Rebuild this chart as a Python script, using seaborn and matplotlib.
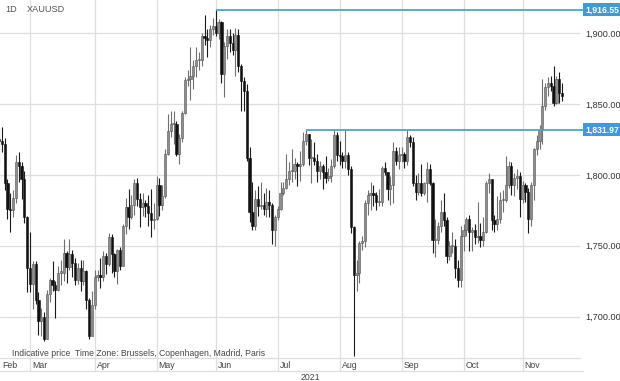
import matplotlib

matplotlib.use("Agg")

import matplotlib.pyplot as plt
import matplotlib.transforms as mtransforms
import numpy as np
import pandas as pd
import seaborn as sns


# daily XAUUSD candles (open, high, low, close)
FEB = [
    (1842, 1849, 1822, 1825), (1825, 1833, 1808, 1824), (1824, 1834, 1816, 1822),
    (1822, 1826, 1789, 1794), (1794, 1797, 1769, 1776), (1776, 1787, 1760, 1775),
    (1775, 1789, 1770, 1784), (1784, 1814, 1780, 1809), (1809, 1816, 1795, 1806),
    (1806, 1809, 1783, 1797), (1797, 1803, 1766, 1770), (1770, 1771, 1717, 1734),
]
MAR = [
    (1734, 1760, 1717, 1723), (1723, 1739, 1705, 1737), (1737, 1739, 1709, 1712),
    (1712, 1717, 1687, 1697), (1697, 1706, 1686, 1700), (1700, 1703, 1683, 1684),
    (1684, 1719, 1684, 1716), (1716, 1727, 1710, 1726), (1726, 1739, 1718, 1722),
    (1722, 1725, 1699, 1719), (1719, 1736, 1718, 1731), (1731, 1740, 1722, 1731),
    (1731, 1755, 1725, 1745), (1745, 1746, 1724, 1735), (1735, 1755, 1733, 1744),
    (1744, 1747, 1728, 1738), (1738, 1741, 1722, 1726), (1726, 1738, 1723, 1734),
    (1734, 1740, 1718, 1725), (1725, 1740, 1722, 1732), (1732, 1733, 1705, 1712),
    (1712, 1713, 1684, 1686), (1686, 1718, 1686, 1708),
]
APR = [
    (1708, 1733, 1705, 1728), (1728, 1733, 1725, 1729), (1729, 1741, 1720, 1728),
    (1728, 1746, 1725, 1743), (1743, 1745, 1730, 1737), (1737, 1759, 1736, 1756),
    (1756, 1758, 1731, 1744), (1744, 1745, 1728, 1732), (1732, 1748, 1723, 1747),
    (1747, 1749, 1733, 1736), (1736, 1765, 1736, 1764), (1764, 1784, 1758, 1777),
    (1777, 1790, 1762, 1770), (1770, 1786, 1769, 1779), (1779, 1797, 1772, 1794),
    (1794, 1798, 1778, 1783), (1783, 1787, 1763, 1777), (1777, 1787, 1771, 1780),
    (1780, 1782, 1770, 1778), (1778, 1786, 1764, 1773), (1773, 1790, 1756, 1768),
    (1768, 1780, 1762, 1769),
]
MAY = [
    (1769, 1799, 1768, 1793), (1793, 1798, 1771, 1779), (1779, 1793, 1775, 1785),
    (1785, 1818, 1784, 1815), (1815, 1843, 1814, 1831), (1831, 1845, 1827, 1836),
    (1836, 1845, 1822, 1836), (1836, 1838, 1813, 1815), (1815, 1829, 1808, 1826),
    (1826, 1845, 1823, 1844), (1844, 1869, 1843, 1867), (1867, 1874, 1863, 1868),
    (1868, 1890, 1853, 1870), (1870, 1881, 1861, 1877), (1877, 1890, 1869, 1881),
    (1881, 1887, 1874, 1881), (1881, 1900, 1877, 1898), (1898, 1913, 1892, 1897),
    (1897, 1903, 1883, 1895), (1895, 1906, 1890, 1903), (1903, 1911, 1899, 1905),
]
JUN = [
    (1905, 1916.55, 1898, 1900), (1900, 1910, 1896, 1908), (1908, 1909, 1865, 1871),
    (1871, 1894, 1855, 1891), (1891, 1903, 1882, 1898), (1898, 1903, 1887, 1893),
    (1893, 1900, 1885, 1888), (1888, 1904, 1870, 1899), (1899, 1903, 1873, 1877),
    (1877, 1878, 1845, 1866), (1866, 1869, 1845, 1859), (1859, 1864, 1810, 1812),
    (1812, 1820, 1767, 1774), (1774, 1795, 1761, 1764), (1764, 1789, 1761, 1783),
    (1783, 1792, 1771, 1778), (1778, 1795, 1776, 1779), (1779, 1787, 1772, 1776),
    (1776, 1791, 1770, 1781), (1781, 1789, 1770, 1779), (1779, 1780, 1751, 1761),
    (1761, 1772, 1750, 1770),
]
JUL = [
    (1770, 1778, 1768, 1776), (1776, 1795, 1775, 1787), (1787, 1795, 1786, 1791),
    (1791, 1815, 1790, 1797), (1797, 1809, 1793, 1803), (1803, 1818, 1795, 1803),
    (1803, 1812, 1797, 1808), (1808, 1809, 1792, 1806), (1806, 1817, 1796, 1808),
    (1808, 1830, 1806, 1824), (1824, 1831.97, 1821, 1829), (1829, 1829, 1807, 1812),
    (1812, 1825, 1794, 1812), (1812, 1823, 1807, 1810), (1810, 1815, 1795, 1803),
    (1803, 1810, 1797, 1806), (1806, 1808, 1790, 1802), (1802, 1813, 1794, 1798),
    (1798, 1805, 1796, 1799), (1799, 1811, 1795, 1806), (1806, 1831.5, 1805, 1828),
    (1828, 1830, 1810, 1814),
]
AUG = [
    (1814, 1824, 1807, 1813), (1813, 1816, 1805, 1810), (1810, 1831.5, 1805, 1814),
    (1814, 1816, 1800, 1804), (1804, 1806, 1759, 1763), (1763, 1764, 1672, 1729),
    (1729, 1740, 1718, 1731), (1731, 1753, 1724, 1752), (1752, 1757, 1747, 1753),
    (1753, 1782, 1749, 1780), (1780, 1789, 1772, 1786), (1786, 1795, 1775, 1787),
    (1787, 1793, 1778, 1786), (1786, 1788, 1775, 1781), (1781, 1790, 1778, 1781),
    (1781, 1806, 1778, 1805), (1805, 1809, 1800, 1802), (1802, 1802, 1782, 1790),
    (1790, 1799, 1779, 1793), (1793, 1823, 1780, 1817), (1817, 1820, 1807, 1810),
    (1810, 1820, 1804, 1814),
]
SEP = [
    (1814, 1820, 1809, 1815), (1815, 1816, 1805, 1810), (1810, 1831.5, 1807, 1827),
    (1827, 1828, 1820, 1823), (1823, 1827, 1792, 1794), (1794, 1800, 1782, 1788),
    (1788, 1801, 1786, 1794), (1794, 1808, 1785, 1787), (1787, 1795, 1786, 1794),
    (1794, 1809, 1781, 1804), (1804, 1808, 1793, 1794), (1794, 1795, 1745, 1754),
    (1754, 1769, 1742, 1754), (1754, 1767, 1751, 1764), (1764, 1782, 1760, 1774),
    (1774, 1787, 1764, 1768), (1768, 1770, 1738, 1743), (1743, 1753, 1740, 1750),
    (1750, 1760, 1745, 1750), (1750, 1755, 1727, 1734), (1734, 1740, 1721, 1726),
    (1726, 1764, 1721, 1757),
]
OCT = [
    (1757, 1765, 1746, 1761), (1761, 1770, 1757, 1769), (1769, 1772, 1746, 1760),
    (1760, 1763, 1746, 1761), (1761, 1765, 1751, 1756), (1756, 1781, 1752, 1757),
    (1757, 1766, 1749, 1754), (1754, 1770, 1750, 1760), (1760, 1796, 1759, 1794),
    (1794, 1801, 1787, 1797), (1797, 1797, 1761, 1768), (1768, 1772, 1760, 1765),
    (1765, 1785, 1761, 1769), (1769, 1788, 1766, 1782), (1782, 1789, 1774, 1782),
    (1782, 1813, 1781, 1793), (1793, 1810, 1791, 1806), (1806, 1809, 1786, 1793),
    (1793, 1801, 1785, 1798), (1798, 1804, 1790, 1799), (1799, 1802, 1770, 1783),
]
NOV = [
    (1783, 1796, 1780, 1793), (1793, 1794, 1781, 1788), (1788, 1791, 1759, 1769),
    (1769, 1795, 1764, 1793), (1793, 1819, 1782, 1818), (1818, 1828, 1814, 1824),
    (1824, 1835, 1818, 1832), (1832, 1868, 1822, 1849), (1849, 1865, 1846, 1862),
    (1862, 1869, 1856, 1865), (1865, 1870, 1859, 1863), (1863, 1877, 1849, 1851),
    (1851, 1870, 1850, 1868), (1868, 1873, 1851, 1858), (1858, 1865, 1852, 1856),
]

START_DATE = "2021-02-11"
END_DATE = "2021-11-19"
MONTH_LABELS = ["Feb", "Mar", "Apr", "May", "Jun", "Jul", "Aug", "Sep", "Oct", "Nov"]
Y_TICKS = [1700, 1750, 1800, 1850, 1900]
LEVELS = [1916.55, 1831.97]

W, H = 620, 381
AX_W, AX_H = 580, 358
PX_PER_DAY = 2.815
GRID = "#dedede"
BLUE = "#3f9ad8"


def build_frame() -> pd.DataFrame:
    rows = FEB + MAR + APR + MAY + JUN + JUL + AUG + SEP + OCT + NOV
    df = pd.DataFrame(rows, columns=["open", "high", "low", "close"])
    df["date"] = pd.bdate_range(START_DATE, END_DATE)
    mar1 = df.index[df["date"] >= "2021-03-01"][0]
    df["pos"] = np.arange(len(df)) - mar1
    df["up"] = df["close"] >= df["open"]
    return df


def main() -> None:
    df = build_frame()

    sns.set_style("white")
    plt.rcParams["font.family"] = ["Liberation Sans", "DejaVu Sans"]

    fig = plt.figure(figsize=(W / 100, H / 100), dpi=100)
    ax = fig.add_axes([0, 1 - AX_H / H, AX_W / W, AX_H / H])

    x_left = -30 / PX_PER_DAY
    x_right = x_left + AX_W / PX_PER_DAY
    ax.set_xlim(x_left, x_right)
    ax.set_ylim(1670.7, 1923.5)

    # month gridlines at the first trading day of each month
    month_start = df.groupby(df["date"].dt.month)["pos"].min()
    grid_pos = month_start.values[1:]
    ax.set_xticks(grid_pos)
    ax.set_xticklabels([])
    ax.set_yticks(Y_TICKS)
    ax.grid(True, color=GRID, linewidth=0.9)
    ax.set_axisbelow(True)
    for s in ax.spines.values():
        s.set_visible(False)

    # candles
    wick_col = np.where(df["up"], "#6f6f6f", "#1a1a1a")
    ax.vlines(df["pos"], df["low"], df["high"], colors=wick_col, linewidth=0.8, zorder=2)
    body_low = np.minimum(df["open"], df["close"])
    body_h = np.maximum((df["close"] - df["open"]).abs(), 0.8)
    ax.bar(
        df["pos"], body_h, bottom=body_low, width=0.8,
        color=np.where(df["up"], "#8e8e8e", "#111111"),
        edgecolor=np.where(df["up"], "#555555", "#111111"),
        linewidth=0.4, zorder=3,
    )

    # level lines + boxed labels on the right
    blend = mtransforms.blended_transform_factory(ax.transAxes, ax.transData)
    for lvl in LEVELS:
        start = df.loc[df["high"] == lvl, "pos"].iloc[0]
        ax.hlines(lvl, start, x_right + 3 / PX_PER_DAY, color="#4aa3da",
                  linewidth=1.3, clip_on=False, zorder=4)
        ax.text(1 + 5 / AX_W, lvl, f"{lvl:,.2f}", transform=blend, ha="left", va="center",
                fontsize=6.2, fontweight="bold", color="white", clip_on=False,
                bbox={"boxstyle": "square,pad=0.25", "facecolor": BLUE, "edgecolor": "none"})

    # right axis price labels
    ax.yaxis.tick_right()
    ax.set_yticklabels([f"{v:,.2f}" for v in Y_TICKS])
    ax.tick_params(axis="y", length=0, pad=4, labelsize=6.6, labelcolor="#333333")
    ax.tick_params(axis="x", length=0)

    # bottom time axis
    xblend = mtransforms.blended_transform_factory(ax.transData, ax.transAxes)
    row1 = -8 / AX_H
    row_line = -13 / AX_H
    ax.vlines(grid_pos, row_line, 0, transform=xblend, color=GRID, linewidth=0.9, clip_on=False)
    ax.plot([0, 1], [0, 0], transform=ax.transAxes, color=GRID, lw=0.9, clip_on=False)
    ax.plot([0, 1 + 3 / AX_W], [row_line, row_line], transform=ax.transAxes,
            color=GRID, lw=0.9, clip_on=False)
    label_pos = [x_left + 2 / PX_PER_DAY] + list(grid_pos + 0.7)
    for p, name in zip(label_pos, MONTH_LABELS):
        ax.text(p, row1, name, transform=xblend, ha="left", va="center",
                fontsize=6.3, color="#444444", clip_on=False)
    ax.text(310 / AX_W, -19 / AX_H, "2021", transform=ax.transAxes, ha="center",
            va="center", fontsize=6.3, color="#444444", clip_on=False)

    # captions
    ax.text(5 / AX_W, 1 - 9 / AX_H, "1D", transform=ax.transAxes, ha="left", va="center",
            fontsize=6.6, color="#555555")
    ax.text(27 / AX_W, 1 - 9 / AX_H, "XAUUSD", transform=ax.transAxes, ha="left",
            va="center", fontsize=6.6, color="#555555")
    ax.text(12 / AX_W, 4 / AX_H, "Indicative price", transform=ax.transAxes, ha="left",
            va="center", fontsize=6.2, color="#444444")
    ax.text(75 / AX_W, 4 / AX_H, "Time Zone: Brussels, Copenhagen, Madrid, Paris",
            transform=ax.transAxes, ha="left", va="center", fontsize=6.2, color="#444444")

    fig.savefig("out.png", dpi=100)
    plt.close(fig)


if __name__ == "__main__":
    main()
